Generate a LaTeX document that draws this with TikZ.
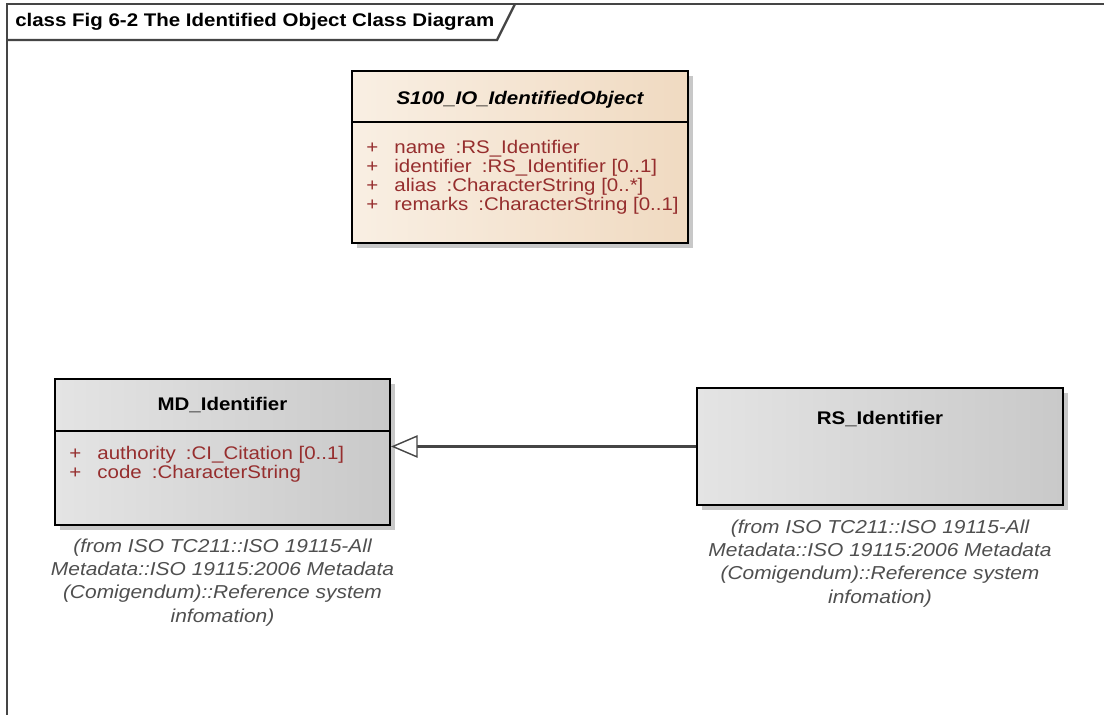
\documentclass[tikz,border=0pt]{standalone}
\usepackage{fontspec}
\setmainfont{Liberation Sans}[FakeStretch=1.12]
\usetikzlibrary{positioning,calc,fit,shadows,arrows.meta}
\definecolor{Frame}{HTML}{454545}
\definecolor{Attr}{HTML}{962E2E}
\definecolor{NoteGrey}{HTML}{4F4F4F}
\definecolor{PeachL}{HTML}{F9EFE3}
\definecolor{PeachR}{HTML}{F0DAC1}
\definecolor{GreyL}{HTML}{E4E4E4}
\definecolor{GreyR}{HTML}{C9C9C9}
\newcommand{\umlattr}[2]{\makebox[20pt][l]{+}#1\hspace{.55em}:#2}
\tikzset{
  class box/.style={draw=black,line width=1.4pt,inner sep=0pt,
    drop shadow={shadow xshift=3.5pt,shadow yshift=-3.5pt,fill=black!30,opacity=.7}},
  grey class/.style={class box,left color=GreyL,right color=GreyR},
  peach class/.style={class box,left color=PeachL,right color=PeachR},
  class title/.style={font=\fontsize{13pt}{15pt}\selectfont\bfseries,inner sep=0pt,anchor=mid},
  abstract title/.style={class title,font=\fontsize{13pt}{15pt}\selectfont\bfseries\itshape},
  class attr/.style={font=\fontsize{13pt}{15pt}\selectfont,text=Attr,inner sep=0pt,anchor=mid west},
  class note/.style={font=\fontsize{13.3pt}{16.4pt}\selectfont\itshape,text=NoteGrey,
    align=center,inner sep=0pt,anchor=north},
  compartment/.style={line width=1.4pt,draw=black},
  generalisation/.style={-{Triangle[length=19pt,width=16pt,fill=white,line width=1pt]},
    line width=1.5pt,draw=Frame},
  frame line/.style={line width=1.6pt,draw=Frame}
}
\begin{document}
\begin{tikzpicture}[x=0.025cm,y=-0.025cm]
  \useasboundingbox[fill=white] (0,0) rectangle (1104,715);
  % diagram frame
  \draw[frame line] (7,715) -- (7,4) -- (1104,4);
  \draw[frame line] (7,40) -- (497,40) -- (515,4);
  \node[class title,anchor=mid west] (frame title) at (15,23) {class Fig 6-2 The Identified Object Class Diagram};
  % S100_IO_IdentifiedObject
  \coordinate (s100 nw) at (352,71);
  \coordinate (s100 se) at (688,243);
  \node[peach class,fit=(s100 nw)(s100 se)] (s100) {};
  \draw[compartment] ($(s100.north west)+(0,52)$) -- ($(s100.north east)+(0,52)$);
  \node[abstract title] (s100 title) at ($(s100.north)+(0,31)$) {S100\_IO\_IdentifiedObject};
  \node[class attr] (s100 name) at ($(s100.north west)+(15,80)$) {\umlattr{name}{RS\_Identifier}};
  \node[class attr] (s100 id) at ($(s100 name.mid west)+(0,19)$) {\umlattr{identifier}{RS\_Identifier [0..1]}};
  \node[class attr] (s100 alias) at ($(s100 id.mid west)+(0,19)$) {\umlattr{alias}{CharacterString [0..*]}};
  \node[class attr] (s100 remarks) at ($(s100 alias.mid west)+(0,19)$) {\umlattr{remarks}{CharacterString [0..1]}};
  % MD_Identifier
  \coordinate (md nw) at (55,379);
  \coordinate (md se) at (390,525);
  \node[grey class,fit=(md nw)(md se)] (md) {};
  \draw[compartment] ($(md.north west)+(0,53)$) -- ($(md.north east)+(0,53)$);
  \node[class title] (md title) at ($(md.north)+(0,29)$) {MD\_Identifier};
  \node[class attr] (md authority) at ($(md.north west)+(15,78)$) {\umlattr{authority}{CI\_Citation [0..1]}};
  \node[class attr] (md code) at ($(md authority.mid west)+(0,19)$) {\umlattr{code}{CharacterString}};
  \node[class note] (md note) at ($(md.south)+(0,13)$) {(from ISO TC211::ISO 19115-All\\Metadata::ISO 19115:2006 Metadata\\(Comigendum)::Reference system\\infomation)};
  % RS_Identifier
  \coordinate (rs nw) at (697,388);
  \coordinate (rs se) at (1063,505);
  \node[grey class,fit=(rs nw)(rs se)] (rs) {};
  \node[class title] (rs title) at ($(rs.north)+(0,34)$) {RS\_Identifier};
  \node[class note] (rs note) at ($(rs.south)+(0,14)$) {(from ISO TC211::ISO 19115-All\\Metadata::ISO 19115:2006 Metadata\\(Comigendum)::Reference system\\infomation)};
  % generalisation
  \draw[generalisation] (rs.west) -- (rs.west -| md.east);
\end{tikzpicture}
\end{document}
